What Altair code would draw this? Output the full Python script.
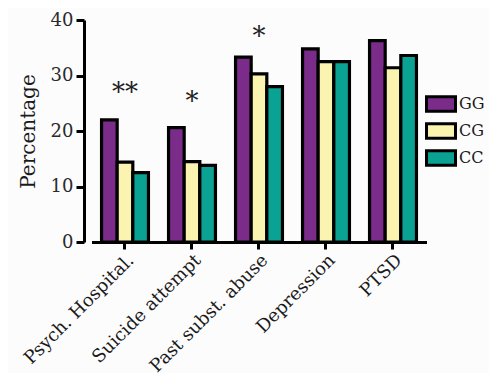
import altair as alt
import pandas as pd

categories = ["Psych. Hospital.", "Suicide attempt", "Past subst. abuse", "Depression", "PTSD"]
genotypes = ["GG", "CG", "CC"]
gg_values = [22.0, 20.6, 33.3, 34.8, 36.3]
cg_values = [14.4, 14.5, 30.3, 32.5, 31.4]
cc_values = [12.5, 13.8, 28.0, 32.5, 33.6]
colors = ["#7B2C8B", "#FAF4B0", "#0AA393"]

sig_categories = ["Psych. Hospital.", "Suicide attempt", "Past subst. abuse"]
sig_labels = ["**", "*", "*"]
sig_y = [26.8, 25.3, 36.9]

rows = []
for g, vals in zip(genotypes, [gg_values, cg_values, cc_values]):
    for c, v in zip(categories, vals):
        rows.append({"category": c, "genotype": g, "value": v})
df = pd.DataFrame(rows)
sig = pd.DataFrame({"category": sig_categories, "label": sig_labels, "y": sig_y})

FONT = "DejaVu Serif"

x_enc = alt.X(
    "category:N",
    sort=categories,
    title=None,
    scale=alt.Scale(range=[7.5, 342.5], paddingInner=0.3, paddingOuter=0.15),
    axis=alt.Axis(
        labelAngle=-45,
        labelAlign="right",
        labelBaseline="top",
        labelFont=FONT,
        labelFontSize=18,
        labelColor="#1a1a1a",
        labelPadding=2,
        domainColor="black",
        domainWidth=3,
        tickColor="black",
        tickWidth=3,
        tickSize=7,
    ),
)

bars = alt.Chart(df).mark_bar(stroke="black", strokeWidth=3.2).encode(
    x=x_enc,
    xOffset=alt.XOffset("genotype:N", sort=genotypes,
                        scale=alt.Scale(paddingInner=0, paddingOuter=0)),
    y=alt.Y(
        "value:Q",
        title="Percentage",
        scale=alt.Scale(domain=[0, 40], nice=False),
        axis=alt.Axis(
            values=[0, 10, 20, 30, 40],
            grid=False,
            labelFont=FONT,
            labelFontSize=18,
            labelColor="#2a2a2a",
            labelPadding=3,
            titleFont=FONT,
            titleFontSize=20,
            titleFontWeight="normal",
            titleColor="#1a1a1a",
            titlePadding=12,
            domainColor="black",
            domainWidth=3,
            tickColor="black",
            tickWidth=3,
            tickSize=8,
        ),
    ),
    color=alt.Color(
        "genotype:N",
        sort=genotypes,
        scale=alt.Scale(domain=genotypes, range=colors),
        legend=alt.Legend(
            title=None,
            orient="none",
            legendX=348,
            legendY=75,
            symbolType="M-2,-1H2V1H-2Z",
            symbolSize=210,
            symbolStrokeColor="black",
            symbolStrokeWidth=3,
            symbolOpacity=1,
            labelFont=FONT,
            labelFontSize=16,
            labelColor="#1a1a1a",
            labelOffset=9,
            rowPadding=-1,
        ),
    ),
)

stars = alt.Chart(sig).mark_text(font=FONT, fontSize=26, color="#222222", baseline="middle").encode(
    x=alt.X("category:N", sort=categories),
    y=alt.Y("y:Q"),
    text="label:N",
)

chart = alt.layer(bars, stars).properties(
    width=342,
    height=222,
    autosize=alt.AutoSizeParams(type="none"),
    padding={"left": 76, "top": 12, "right": 63, "bottom": 131},
    background="#fcfcfd",
).configure_view(stroke=None)

chart.save("out.html", embed_options={"renderer": "svg", "actions": False})
